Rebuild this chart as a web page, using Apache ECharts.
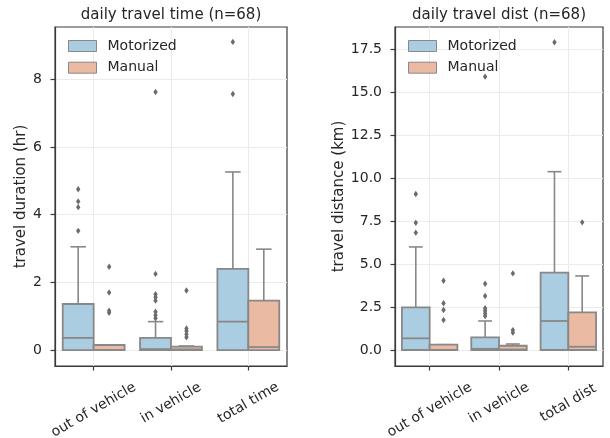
<!DOCTYPE html>
<html><head><meta charset="utf-8">
<script src="https://cdn.jsdelivr.net/npm/echarts@6/dist/echarts.min.js"></script>
<style>html,body{margin:0;padding:0;background:#fff}#c{width:610px;height:438px}</style>
</head><body><div id="c"></div>
<script>
const hues = ['Motorized', 'Manual'];
const timeCats = ['out of vehicle', 'in vehicle', 'total time'];
const distCats = ['out of vehicle', 'in vehicle', 'total dist'];
const timeTicks = [0, 2, 4, 6, 8];
const distTicks = [0, 2.5, 5, 7.5, 10, 12.5, 15, 17.5];
// box stats: [lower whisker, Q1, median, Q3, upper whisker]
const timeMotorized = [[0, 0, 0.36, 1.36, 3.05], [0, 0, 0.03, 0.36, 0.84], [0, 0, 0.84, 2.40, 5.26]];
const timeManual = [[0, 0, 0, 0.15, 0.15], [0, 0, 0.02, 0.10, 0.12], [0, 0, 0.09, 1.46, 2.98]];
const timeMotorizedOut = [[3.52, 4.22, 4.39, 4.75], [0.94, 1.03, 1.13, 1.46, 1.56, 1.65, 2.25, 7.62], [7.56, 9.10]];
const timeManualOut = [[1.10, 1.16, 1.70, 2.46], [0.38, 0.47, 0.56, 0.64, 1.76], []];
const distMotorized = [[0, 0, 0.68, 2.48, 6.00], [0, 0, 0.07, 0.74, 1.69], [0, 0, 1.69, 4.50, 10.38]];
const distManual = [[0, 0, 0, 0.31, 0.31], [0, 0, 0.03, 0.25, 0.35], [0, 0, 0.19, 2.19, 4.31]];
const distMotorizedOut = [[6.83, 7.41, 9.08], [1.98, 2.13, 2.29, 2.43, 3.14, 3.86, 15.91], [17.91]];
const distManualOut = [[1.75, 2.33, 2.72, 4.03], [1.01, 1.16, 4.46], [7.43]];

const FONT = 'DejaVu Sans';
const TXT = '#262626';
const SPINE = '#3a3a3a';
const EDGE = '#888888';
const GRIDC = '#ebebeb';
const COLORS = ['#abcde1', '#ebbaa3'];

function boxItem(offset) {
  return function (params, api) {
    const i = api.value(0);
    const band = api.size([1, 0])[0];
    const cx = api.coord([i, 0])[0] + offset * band;
    const w = 0.4 * band;
    const y = k => api.coord([i, api.value(k)])[1];
    const lo = y(1), q1 = y(2), med = y(3), q3 = y(4), hi = y(5);
    const ls = { stroke: EDGE, lineWidth: 1.6 };
    return {
      type: 'group', children: [
        { type: 'line', shape: { x1: cx, y1: q3, x2: cx, y2: hi }, style: ls },
        { type: 'line', shape: { x1: cx, y1: q1, x2: cx, y2: lo }, style: ls },
        { type: 'line', shape: { x1: cx - w / 4, y1: hi, x2: cx + w / 4, y2: hi }, style: ls },
        { type: 'line', shape: { x1: cx - w / 4, y1: lo, x2: cx + w / 4, y2: lo }, style: ls },
        { type: 'rect', shape: { x: cx - w / 2, y: q3, width: w, height: q1 - q3 }, style: { fill: api.visual('color'), stroke: EDGE, lineWidth: 1.8 } },
        { type: 'line', shape: { x1: cx - w / 2, y1: med, x2: cx + w / 2, y2: med }, style: { stroke: EDGE, lineWidth: 1.8 } }
      ]
    };
  };
}
function outItem(offset) {
  return function (params, api) {
    const i = api.value(0);
    const band = api.size([1, 0])[0];
    const p = api.coord([i, api.value(1)]);
    const cx = p[0] + offset * band, cy = p[1];
    return { type: 'polygon', shape: { points: [[cx, cy - 3.2], [cx + 2.2, cy], [cx, cy + 3.2], [cx - 2.2, cy]] }, style: { fill: '#6b6b6b' } };
  };
}
const boxData = stats => stats.map((s, i) => [i].concat(s));
const outData = outs => outs.flatMap((arr, i) => arr.map(v => [i, v]));

const charts = [
  { cats: timeCats, ticks: timeTicks, min: -0.47, max: 9.54, name: 'travel duration (hr)', nameGap: 26, fmt: v => String(v),
    title: 'daily travel time (n=68)', left: 55, width: 232,
    boxes: [timeMotorized, timeManual], outs: [timeMotorizedOut, timeManualOut] },
  { cats: distCats, ticks: distTicks, min: -0.93, max: 18.80, name: 'travel distance (km)', nameGap: 48, fmt: v => v.toFixed(1),
    title: 'daily travel dist (n=68)', left: 395, width: 208,
    boxes: [distMotorized, distManual], outs: [distMotorizedOut, distManualOut] }
];

const option = {
  animation: false,
  textStyle: { fontFamily: FONT },
  title: [], legend: [], grid: [], xAxis: [], yAxis: [], series: []
};
const offsets = [-0.2, 0.2];
charts.forEach((c, g) => {
  option.title.push({ text: c.title, left: c.left + c.width / 2, top: 8, textAlign: 'center', padding: 0,
    textStyle: { fontFamily: FONT, fontSize: 15, fontWeight: 'normal', color: TXT } });
  option.legend.push({ orient: 'vertical', left: c.left + 13, top: 39, padding: 0, icon: 'rect',
    itemWidth: 28, itemHeight: 11, itemGap: 7.7, selectedMode: false,
    textStyle: { fontFamily: FONT, fontSize: 14, color: TXT, lineHeight: 14, padding: [0, 0, 0, 6] },
    data: hues.map((h, k) => ({ name: h, itemStyle: { color: COLORS[k], borderColor: EDGE, borderWidth: 1 } })) });
  option.grid.push({ left: c.left, top: 27, width: c.width, height: 339, outerBoundsMode: 'none', containLabel: false,
    show: true, borderColor: SPINE, borderWidth: 1.2, backgroundColor: 'transparent' });
  option.xAxis.push({ type: 'category', gridIndex: g, data: c.cats, boundaryGap: true,
    axisLine: { show: true, onZero: false, lineStyle: { color: SPINE, width: 1.2 } },
    axisTick: { show: true, alignWithLabel: true, interval: 0, length: 4.5, lineStyle: { color: SPINE, width: 1.2 } },
    axisLabel: { interval: 0, rotate: 30, align: 'center', verticalAlign: 'middle', margin: 44, color: TXT, fontSize: 14,
      formatter: v => '{' + (v.length > 11 ? 'l' : 's') + '|' + v + '}',
      rich: { l: { fontFamily: FONT, fontSize: 14, color: TXT }, s: { fontFamily: FONT, fontSize: 14, color: TXT, padding: [0, 0, 12, 7] } } },
    splitLine: { show: false } });
  option.yAxis.push({ type: 'value', gridIndex: g, min: c.min, max: c.max,
    name: c.name, nameLocation: 'middle', nameGap: c.nameGap,
    nameTextStyle: { fontFamily: FONT, fontSize: 15, color: TXT },
    axisLine: { show: true, onZero: false, lineStyle: { color: SPINE, width: 1.2 } },
    axisTick: { show: true, length: 4.5, customValues: c.ticks, lineStyle: { color: SPINE, width: 1.2 } },
    axisLabel: { customValues: c.ticks, margin: 13, fontSize: 14, color: TXT, formatter: c.fmt },
    splitLine: { show: true, lineStyle: { color: GRIDC, width: 1 } } });
  option.series.push({ type: 'custom', name: 'grid' + g, xAxisIndex: g, yAxisIndex: g, data: [], z: 1,
    renderItem: () => null,
    markLine: { silent: true, symbol: ['none', 'none'], z: 1, label: { show: false }, emphasis: { disabled: true },
      lineStyle: { color: GRIDC, width: 1, type: 'solid' }, data: c.cats.map(cat => ({ xAxis: cat })) } });
  hues.forEach((h, k) => {
    option.series.push({ type: 'custom', name: h, xAxisIndex: g, yAxisIndex: g, z: 3,
      itemStyle: { color: COLORS[k] }, encode: { x: 0, y: [1, 2, 3, 4, 5] },
      renderItem: boxItem(offsets[k]), data: boxData(c.boxes[k]) });
    option.series.push({ type: 'custom', name: h + ' outliers', xAxisIndex: g, yAxisIndex: g, z: 4,
      itemStyle: { color: '#6b6b6b' }, encode: { x: 0, y: 1 },
      renderItem: outItem(offsets[k]), data: outData(c.outs[k]) });
  });
});
const chart = echarts.init(document.getElementById('c'), null, { renderer: 'canvas' });
chart.setOption(option);
</script></body></html>
